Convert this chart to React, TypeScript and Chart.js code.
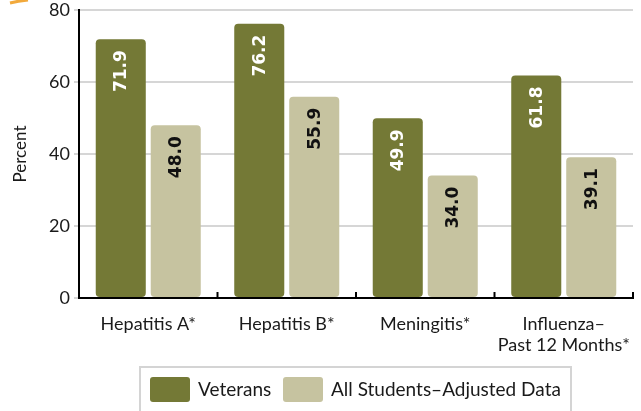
import React, { useEffect, useRef } from "react";
import { Chart, registerables } from "chart.js";

Chart.register(...registerables);

const categories: (string | string[])[] = [
  "Hepatitis A*",
  "Hepatitis B*",
  "Meningitis*",
  ["Influenza–", "Past 12 Months*"],
];
const veterans = [71.9, 76.2, 49.9, 61.8];
const allStudents = [48.0, 55.9, 34.0, 39.1];
const seriesNames = ["Veterans", "All Students–Adjusted Data"];
const yTicks = [0, 20, 40, 60, 80];

const OLIVE = "#747936";
const BEIGE = "#c6c3a0";
const FONT = "Lato, 'Open Sans', sans-serif";

const decorPlugin = {
  id: "decor",
  afterDatasetsDraw(chart: any) {
    const ctx = chart.ctx;
    chart.data.datasets.forEach((ds: any, di: number) => {
      const meta = chart.getDatasetMeta(di);
      meta.data.forEach((bar: any, i: number) => {
        const v = ds.data[i];
        ctx.save();
        ctx.translate(bar.x + 1, bar.y + 11);
        ctx.rotate(-Math.PI / 2);
        ctx.font = "bold 17px 'DejaVu Sans', sans-serif";
        ctx.fillStyle = di === 0 ? "#ffffff" : "#111111";
        ctx.textAlign = "right";
        ctx.textBaseline = "middle";
        ctx.fillText(v.toFixed(1), 0, 0);
        ctx.restore();
      });
    });
    const area = chart.chartArea;
    ctx.save();
    ctx.strokeStyle = "#000";
    ctx.lineWidth = 2;
    const n = categories.length;
    for (let i = 1; i <= n; i++) {
      const x = area.left + ((area.right - area.left) * i) / n;
      ctx.beginPath();
      ctx.moveTo(x, area.bottom);
      ctx.lineTo(x, area.bottom - 6);
      ctx.stroke();
    }
    ctx.restore();
  },
  afterDraw(chart: any) {
    const ctx = chart.ctx;
    ctx.save();
    ctx.strokeStyle = "#f2a93b";
    ctx.lineWidth = 3;
    ctx.beginPath();
    ctx.moveTo(10, 3);
    ctx.quadraticCurveTo(18, 1, 28, 0);
    ctx.stroke();
    ctx.strokeStyle = "#d4d4d4";
    ctx.lineWidth = 2;
    ctx.strokeRect(140, 367, 431, 60);
    const items = [
      { x: 150, color: OLIVE, text: seriesNames[0], tx: 198 },
      { x: 283, color: BEIGE, text: seriesNames[1], tx: 331 },
    ];
    items.forEach((it) => {
      ctx.fillStyle = it.color;
      ctx.beginPath();
      (ctx as any).roundRect(it.x, 377, 40, 25, 3);
      ctx.fill();
      ctx.fillStyle = "#1a1a1a";
      ctx.font = "19px " + FONT;
      ctx.textAlign = "left";
      ctx.textBaseline = "middle";
      ctx.fillText(it.text, it.tx, 390);
    });
    ctx.restore();
  },
};

export default function App() {
  const ref = useRef<HTMLCanvasElement>(null);
  useEffect(() => {
    if (!ref.current) return;
    const chart = new Chart(ref.current, {
      type: "bar",
      data: {
        labels: categories,
        datasets: [
          {
            label: seriesNames[0],
            data: veterans,
            backgroundColor: OLIVE,
            borderRadius: 4,
            borderSkipped: false,
            categoryPercentage: 0.794,
            barPercentage: 0.91,
          },
          {
            label: seriesNames[1],
            data: allStudents,
            backgroundColor: BEIGE,
            borderRadius: 4,
            borderSkipped: false,
            categoryPercentage: 0.794,
            barPercentage: 0.91,
          },
        ],
      },
      options: {
        animation: false,
        responsive: false,
        layout: { padding: { left: 0, right: 8, top: 10, bottom: 43 } },
        plugins: { legend: { display: false }, tooltip: { enabled: false } },
        scales: {
          x: {
            offset: true,
            grid: { display: false, drawTicks: false },
            border: { display: true, color: "#000", width: 2 },
            ticks: {
              color: "#1a1a1a",
              font: { family: FONT, size: 18 },
              padding: 15,
              maxRotation: 0,
            },
            afterFit(s: any) {
              s.height = 70;
              s.paddingLeft = 0;
              s.paddingRight = 0;
            },
          },
          y: {
            min: 0,
            max: 80,
            afterBuildTicks(s: any) {
              s.ticks = yTicks.map((v) => ({ value: v }));
            },
            grid: { color: "#d6d6d6", lineWidth: 2, tickLength: 5, drawTicks: true },
            border: { display: true, color: "#000", width: 2 },
            ticks: {
              color: "#1a1a1a",
              font: { family: FONT, size: 18 },
              padding: 4,
            },
            title: {
              display: true,
              text: "Percent",
              color: "#1a1a1a",
              font: { family: FONT, size: 17 },
              padding: { top: 10, bottom: 0 },
            },
            afterFit(s: any) {
              s.width = 79;
              s.paddingTop = 0;
              s.paddingBottom = 0;
            },
          },
        },
      },
      plugins: [decorPlugin],
    } as any);
    return () => chart.destroy();
  }, []);
  return (
    <div style={{ position: "fixed", left: 0, top: 0, width: 641, height: 411, background: "#fff" }}>
      <canvas ref={ref} width={641} height={411} style={{ display: "block" }} />
    </div>
  );
}
